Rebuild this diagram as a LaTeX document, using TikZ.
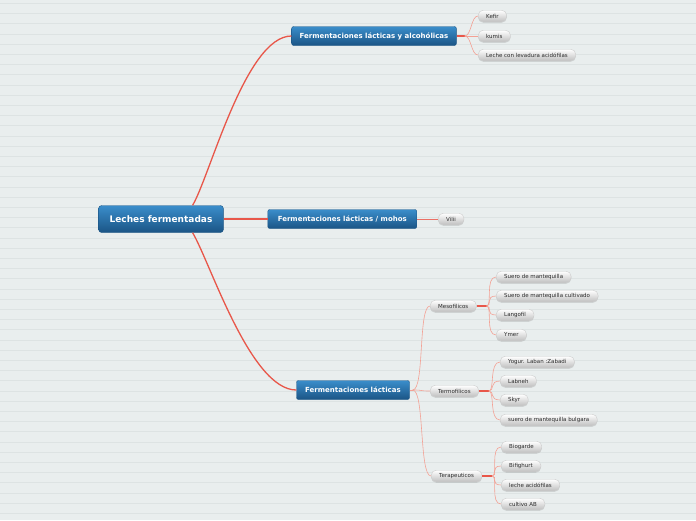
\documentclass[tikz,border=0pt]{standalone}
\usepackage{fontspec}
\setmainfont{DejaVu Sans}
\usepackage{xcolor}
\usepackage{tikz}
\usetikzlibrary{positioning, shadows}
\definecolor{paper}{HTML}{E9EEEE}
\definecolor{paperline}{HTML}{DDE3E3}
\definecolor{topicblue}{HTML}{3A8DCB}
\definecolor{topicdark}{HTML}{1B5585}
\definecolor{linkred}{HTML}{E8574A}
\definecolor{linkpale}{HTML}{F3A194}
\definecolor{leaftext}{HTML}{2B2B2B}

\begin{document}
\begin{tikzpicture}[x=1pt, y=-1pt,
      central/.style={rectangle, rounded corners=3pt, draw=topicdark, top color=topicblue,
                      bottom color=topicdark, text=white, minimum height=27pt, inner xsep=11pt,
                      font=\bfseries\fontsize{9}{10}\selectfont},
      topic/.style={central, rounded corners=2pt, minimum height=19pt, inner xsep=8pt,
                    font=\bfseries\fontsize{7}{8}\selectfont},
      leaf/.style={rectangle, rounded corners=5pt, draw=black!20, top color=white,
                   bottom color=black!25, text=leaftext, minimum height=11.5pt,
                   inner xsep=8pt, inner ysep=0pt, font=\fontsize{5.5}{6}\selectfont,
                   drop shadow={shadow xshift=0pt, shadow yshift=-1pt, opacity=0.25}},
      mainlink/.style={draw=linkred, line width=1.3pt},
      stub/.style={draw=linkred, line width=1.5pt},
      sublink/.style={draw=linkpale, line width=0.6pt}
    ]
      % paper with ruled lines
      \fill[paper] (0,0) rectangle (696,520);
      \useasboundingbox (0,0) rectangle (696,520);
      \foreach \k in {0,...,50}
        \draw[paperline, line width=0.8pt] (0,{3.3+10.2*\k}) -- (696,{3.3+10.2*\k});

      % main topics
      \node[central] (central) at (161,219) {Leches fermentadas};
      \node[topic] (fermalc) at (374,36) {Fermentaciones lácticas y alcohólicas};
      \node[topic, minimum width=149pt, right=44pt of central] (fermmoho) {Fermentaciones lácticas / mohos};
      \node[topic, minimum width=113pt] (fermlac) at (353,390) {Fermentaciones lácticas};

      % alcoholic branch
      \node[leaf, anchor=west] (kefir) at (478,16) {Kefir};
      \node[leaf, anchor=west] (kumis) at (478,36) {kumis};
      \node[leaf, anchor=west] (levadura) at (478,55) {Leche con levadura acidófilas};

      % moulds
      \node[leaf, right=21pt of fermmoho] (vilii) {Vilii};

      % lactic branch
      \node[leaf, anchor=west] (meso) at (430,306) {Mesofilicos};
      \node[leaf, anchor=west] (termo) at (430,391) {Termofilicos};
      \node[leaf, anchor=west] (terap) at (431,476) {Terapeuticos};

      \node[leaf, anchor=west] (suero) at (496,277) {Suero de mantequilla};
      \node[leaf, anchor=west] (sueroc) at (496,296) {Suero de mantequilla cultivado};
      \node[leaf, anchor=west] (langofil) at (496,315) {Langofil};
      \node[leaf, anchor=west] (ymer) at (496,335) {Ymer};

      \node[leaf, anchor=west] (yogur) at (500,362) {Yogur. Laban :Zabadi};
      \node[leaf, anchor=west] (labneh) at (500,381) {Labneh};
      \node[leaf, anchor=west] (skyr) at (500,400) {Skyr};
      \node[leaf, anchor=west] (bulgara) at (500,420) {suero de mantequilla bulgara};

      \node[leaf, anchor=west] (biogarde) at (501,447) {Biogarde};
      \node[leaf, anchor=west] (bifighurt) at (501,466) {Bifighurt};
      \node[leaf, anchor=west] (acidof) at (501,485) {leche acidófilas};
      \node[leaf, anchor=west] (cultivo) at (501,504) {cultivo AB};

      % links from the centre
      \draw[mainlink] ([xshift=-31pt]central.north east) .. controls +(17,-28) and +(-46,0) .. (fermalc.west);
      \draw[mainlink] ([xshift=-31pt]central.south east) .. controls +(17,28) and +(-46,0) .. (fermlac.west);
      \draw[mainlink, line width=1.2pt] (central.east) -- (fermmoho.west);

      % links to the leaves
      \draw[stub] (fermalc.east) -- ++(8,0) coordinate (alcfork);
      \foreach \n in {kefir, kumis, levadura}
        \draw[sublink] (alcfork) .. controls +(7,0) and +(-7,0) .. (\n.west);
      \draw[sublink, draw=linkred!85, line width=0.8pt] (fermmoho.east) -- (vilii.west);

      \draw[sublink, line width=0.9pt] (fermlac.east) -- ++(3,0) coordinate (lacfork);
      \foreach \n in {meso, termo, terap}
        \draw[sublink] (lacfork) .. controls +(12,0) and +(-12,0) .. (\n.west);

      \draw[stub] (meso.east) -- ++(10,0) coordinate (mesofork);
      \foreach \n in {suero, sueroc, langofil, ymer}
        \draw[sublink] (mesofork) .. controls +(6,0) and +(-11,0) .. (\n.west);
      \draw[stub] (termo.east) -- ++(10,0) coordinate (termofork);
      \foreach \n in {yogur, labneh, skyr, bulgara}
        \draw[sublink] (termofork) .. controls +(6,0) and +(-11,0) .. (\n.west);
      \draw[stub] (terap.east) -- ++(10,0) coordinate (terapfork);
      \foreach \n in {biogarde, bifighurt, acidof, cultivo}
        \draw[sublink] (terapfork) .. controls +(6,0) and +(-11,0) .. (\n.west);
    \end{tikzpicture}
\end{document}
